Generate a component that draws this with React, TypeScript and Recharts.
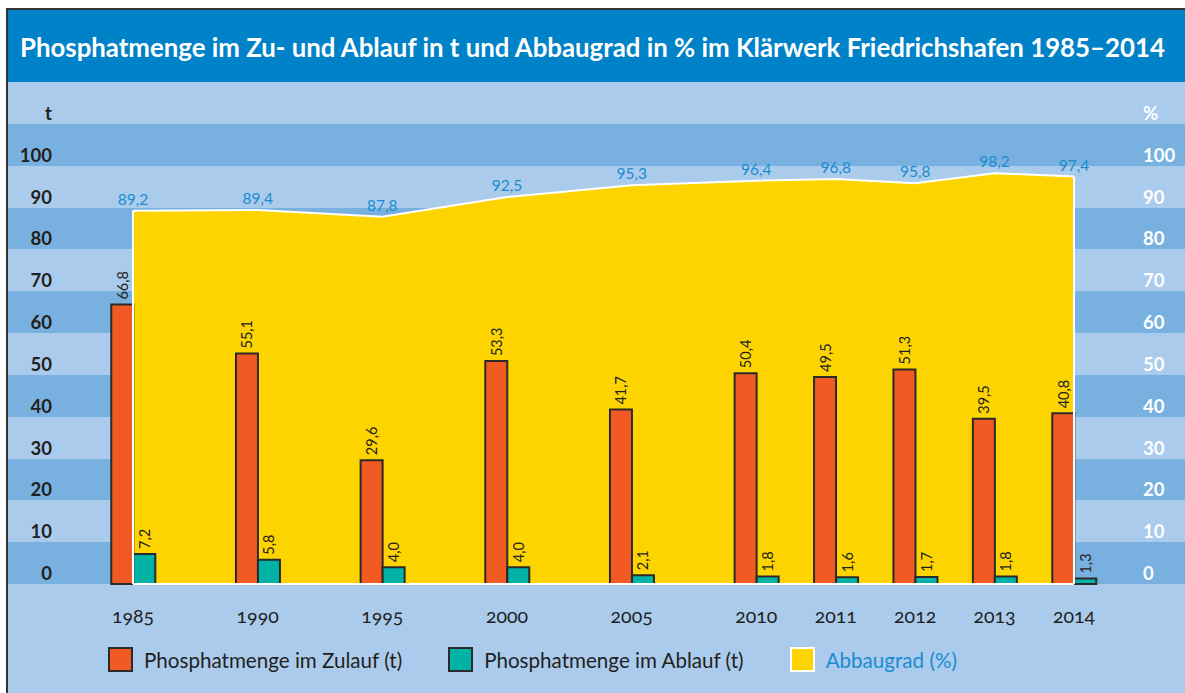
import React from 'react';
import {
  ComposedChart,
  Bar,
  Area,
  XAxis,
  YAxis,
  CartesianGrid,
  LabelList,
  ReferenceLine,
} from 'recharts';

// ---------- data ----------
const years = [1985, 1990, 1995, 2000, 2005, 2010, 2011, 2012, 2013, 2014];
const zulauf = [66.8, 55.1, 29.6, 53.3, 41.7, 50.4, 49.5, 51.3, 39.5, 40.8];
const ablauf = [7.2, 5.8, 4.0, 4.0, 2.1, 1.8, 1.6, 1.7, 1.8, 1.3];
const abbaugrad = [89.2, 89.4, 87.8, 92.5, 95.3, 96.4, 96.8, 95.8, 98.2, 97.4];
const valueTicks = [0, 10, 20, 30, 40, 50, 60, 70, 80, 90, 100, 110, 120];
const leftUnit = 't';
const rightUnit = '%';
const title =
  'Phosphatmenge im Zu- und Ablauf in t und Abbaugrad in % im Klärwerk Friedrichshafen 1985–2014';
const nameZulauf = 'Phosphatmenge im Zulauf (t)';
const nameAblauf = 'Phosphatmenge im Ablauf (t)';
const nameAbbau = 'Abbaugrad (%)';

// ---------- layout / style ----------
const SHORT_STEP = 0.637; // width of a one-year step relative to a five-year step
const PAD_LEFT = 1.0026;
const PAD_RIGHT = 0.8904;
const UNIT_TICK = 110;
const TOP_TICK = 120;

const ORANGE = '#f15a22';
const TEAL = '#00b3a6';
const YELLOW = '#fdd400';
const DARK = '#2a2a2a';
const BAND_LIGHT = '#aacbec';
const BAND_DARK = '#78b1df';
const TITLE_BG = '#0082c8';
const LABEL_BLUE = '#1b8bd0';
const TEXT = '#231f20';
const FONT = 'Lato, "Open Sans", sans-serif';

const slots: number[] = [];
years.forEach((y, i) => {
  slots.push(i === 0 ? 0 : slots[i - 1] + (y - years[i - 1] >= 5 ? 1 : SHORT_STEP));
});
const data = years.map((year, i) => ({
  year,
  slot: slots[i],
  zulauf: zulauf[i],
  ablauf: ablauf[i],
  abbaugrad: abbaugrad[i],
}));
const firstSlot = slots[0];
const lastSlot = slots[slots.length - 1];

const fmt = (v: number) => v.toFixed(1).replace('.', ',');
const yearOf = (s: number) => {
  let best = 0;
  slots.forEach((v, i) => {
    if (Math.abs(v - s) < Math.abs(slots[best] - s)) best = i;
  });
  return String(years[best]);
};

const LeftTick = (props: any) => {
  const { x, y, payload } = props;
  if (payload.value === TOP_TICK) return null;
  const label = payload.value === UNIT_TICK ? leftUnit : String(payload.value);
  return (
    <text x={x + 44} y={y - 4} textAnchor="end" fill={TEXT} fontSize={18.5} fontWeight={700} fontFamily={FONT}>
      {label}
    </text>
  );
};

const RightTick = (props: any) => {
  const { x, y, payload } = props;
  if (payload.value === TOP_TICK) return null;
  const label = payload.value === UNIT_TICK ? rightUnit : String(payload.value);
  return (
    <text x={x - 42} y={y - 4} textAnchor="start" fill="#ffffff" fontSize={18.5} fontWeight={700} fontFamily={FONT}>
      {label}
    </text>
  );
};

const YearTick = (props: any) => {
  const { x, y, payload } = props;
  return (
    <text
      x={x}
      y={y + 39}
      textAnchor="middle"
      fill={TEXT}
      fontSize={19.5}
      fontFamily={FONT}
      style={{ fontVariantNumeric: 'oldstyle-nums' }}
    >
      {yearOf(payload.value)}
    </text>
  );
};

const BarValue = (props: any) => {
  const { x, y, width, value } = props;
  const cx = x + width / 2;
  const ty = y - 5;
  return (
    <text
      x={cx}
      y={ty}
      transform={`rotate(-90 ${cx} ${ty})`}
      textAnchor="start"
      dominantBaseline="central"
      fontSize={14.5}
      fill={TEXT}
      fontFamily={FONT}
    >
      {fmt(value)}
    </text>
  );
};

const Swatch = ({ color, border }: { color: string; border: string }) => (
  <div
    style={{
      width: 25,
      height: 25,
      boxSizing: 'border-box',
      background: color,
      border: `2px solid ${border}`,
      marginRight: 11,
      flex: 'none',
    }}
  />
);

export default function App() {
  return (
    <div
      style={{
        position: 'absolute',
        left: 0,
        top: 0,
        width: 1185,
        height: 693,
        background: '#ffffff',
        overflow: 'hidden',
        fontFamily: FONT,
      }}
    >
      <div
        style={{
          position: 'absolute',
          left: 6,
          top: 8,
          width: 1179,
          height: 685,
          boxSizing: 'border-box',
          borderTop: '2px solid #333333',
          borderLeft: '2px solid #333333',
          background: BAND_LIGHT,
        }}
      />
      <div
        style={{
          position: 'absolute',
          left: 8,
          top: 10,
          width: 1177,
          height: 72,
          background: TITLE_BG,
          color: '#ffffff',
          fontWeight: 700,
          fontSize: 25.8,
          lineHeight: '74px',
          paddingLeft: 12,
          boxSizing: 'border-box',
          whiteSpace: 'nowrap',
        }}
      >
        {title}
      </div>
      <div style={{ position: 'absolute', left: 8, top: 82 }}>
        <ComposedChart
          width={1177}
          height={611}
          data={data}
          margin={{ top: 0, right: 0, bottom: 0, left: 0 }}
          barGap={0}
          barCategoryGap={0}
        >
          <CartesianGrid
            yAxisId="t"
            vertical={false}
            horizontal
            stroke="transparent"
            horizontalFill={[BAND_LIGHT, BAND_DARK]}
          />
          <XAxis
            dataKey="slot"
            type="number"
            domain={[firstSlot - PAD_LEFT, lastSlot + PAD_RIGHT]}
            ticks={slots}
            interval={0}
            height={109}
            axisLine={false}
            tickLine={false}
            tickSize={0}
            tickMargin={0}
            tick={<YearTick />}
            allowDataOverflow
          />
          <YAxis
            yAxisId="t"
            orientation="left"
            mirror
            domain={[0, TOP_TICK]}
            ticks={valueTicks}
            interval={0}
            axisLine={false}
            tickLine={false}
            tickSize={0}
            tickMargin={0}
            width={60}
            tick={<LeftTick />}
          />
          <YAxis
            yAxisId="pct"
            orientation="right"
            mirror
            domain={[0, TOP_TICK]}
            ticks={valueTicks}
            interval={0}
            axisLine={false}
            tickLine={false}
            tickSize={0}
            tickMargin={0}
            width={60}
            tick={<RightTick />}
          />
          <Area
            yAxisId="pct"
            type="linear"
            dataKey="abbaugrad"
            name={nameAbbau}
            fill={YELLOW}
            fillOpacity={1}
            stroke="#ffffff"
            strokeWidth={2}
            isAnimationActive={false}
            dot={false}
            activeDot={false}
          >
            <LabelList
              dataKey="abbaugrad"
              position="top"
              offset={6}
              formatter={(v: any) => fmt(Number(v))}
              fill={LABEL_BLUE}
              fontSize={15.5}
              fontFamily={FONT}
            />
          </Area>
          <ReferenceLine
            yAxisId="pct"
            segment={[
              { x: firstSlot, y: 0 },
              { x: firstSlot, y: abbaugrad[0] },
            ]}
            stroke="#ffffff"
            strokeWidth={2}
          />
          <ReferenceLine
            yAxisId="pct"
            segment={[
              { x: lastSlot, y: 0 },
              { x: lastSlot, y: abbaugrad[abbaugrad.length - 1] },
            ]}
            stroke="#ffffff"
            strokeWidth={2}
          />
          <ReferenceLine
            yAxisId="pct"
            segment={[
              { x: firstSlot, y: 0 },
              { x: lastSlot, y: 0 },
            ]}
            stroke="#ffffff"
            strokeWidth={2}
          />
          <Bar
            yAxisId="t"
            dataKey="zulauf"
            name={nameZulauf}
            fill={ORANGE}
            stroke={DARK}
            strokeWidth={2}
            barSize={22}
            isAnimationActive={false}
          >
            <LabelList dataKey="zulauf" content={<BarValue />} />
          </Bar>
          <Bar
            yAxisId="t"
            dataKey="ablauf"
            name={nameAblauf}
            fill={TEAL}
            stroke={DARK}
            strokeWidth={2}
            barSize={22}
            isAnimationActive={false}
          >
            <LabelList dataKey="ablauf" content={<BarValue />} />
          </Bar>
        </ComposedChart>
      </div>
      <div
        style={{
          position: 'absolute',
          left: 108,
          top: 647,
          height: 25,
          display: 'flex',
          alignItems: 'center',
          fontSize: 20.6,
          color: TEXT,
          whiteSpace: 'nowrap',
        }}
      >
        <Swatch color={ORANGE} border={DARK} />
        <span style={{ marginRight: 46 }}>{nameZulauf}</span>
        <Swatch color={TEAL} border={DARK} />
        <span style={{ marginRight: 46 }}>{nameAblauf}</span>
        <Swatch color={YELLOW} border="#ffffff" />
        <span style={{ color: LABEL_BLUE }}>{nameAbbau}</span>
      </div>
    </div>
  );
}
